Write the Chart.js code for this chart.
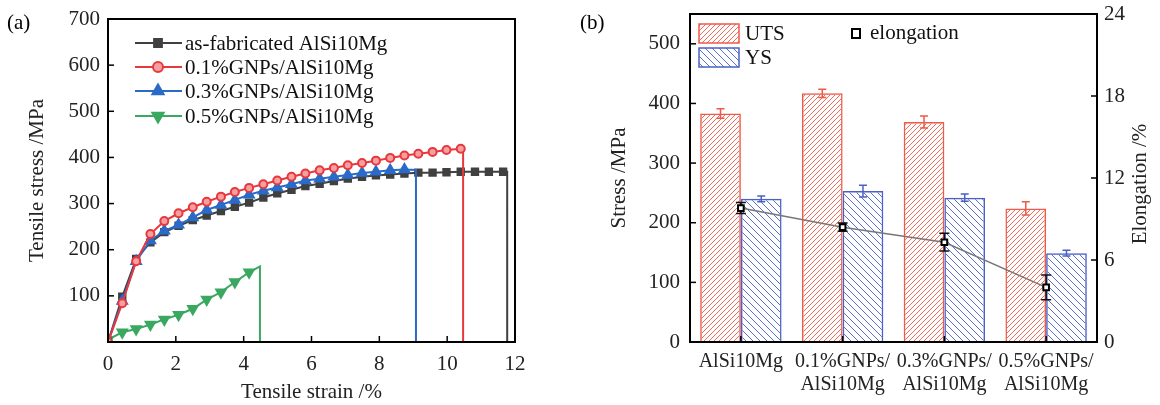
<!DOCTYPE html>
<html>
<head>
<meta charset="utf-8">
<script src="https://cdn.jsdelivr.net/npm/chart.js@4.4.1/dist/chart.umd.min.js"></script>
<style>
html, body { margin: 0; padding: 0; background: #fff; }
#wrap { position: relative; width: 1160px; height: 405px; }
.panel { position: absolute; top: 0; width: 580px; height: 405px; }
#pa { left: 0; }
#pb { left: 580px; }
</style>
</head>
<body>
<div id="wrap">
  <div class="panel" id="pa"><canvas id="chartA"></canvas></div>
  <div class="panel" id="pb"><canvas id="chartB"></canvas></div>
</div>
<script>
// ---- (a) tensile curves ----
const asFabStrain = [0, 0.42, 0.83, 1.25, 1.66, 2.08, 2.50, 2.91, 3.33, 3.74, 4.16, 4.58, 4.99, 5.41, 5.82, 6.24, 6.66, 7.07, 7.49, 7.90, 8.32, 8.74, 9.15, 9.57, 9.98, 10.40, 10.82, 11.23, 11.65, 11.77, 11.77];
const asFabStress = [0, 98, 180, 216, 238, 252, 264, 274, 284, 293, 302, 313, 322, 330, 338, 343, 349, 354, 358, 361, 363, 365, 367, 367, 368, 369, 369, 369, 369, 369, 0];

const gnp01Strain = [0, 0.42, 0.83, 1.25, 1.66, 2.08, 2.50, 2.91, 3.33, 3.74, 4.16, 4.58, 4.99, 5.41, 5.82, 6.24, 6.66, 7.07, 7.49, 7.90, 8.32, 8.74, 9.15, 9.57, 9.98, 10.40, 10.47, 10.47];
const gnp01Stress = [0, 84, 175, 234, 262, 279, 292, 304, 315, 325, 334, 342, 350, 358, 365, 372, 377, 383, 388, 393, 399, 404, 408, 412, 416, 419, 419, 0];

const gnp03Strain = [0, 0.42, 0.83, 1.25, 1.66, 2.08, 2.50, 2.91, 3.33, 3.74, 4.16, 4.58, 4.99, 5.41, 5.82, 6.24, 6.66, 7.07, 7.49, 7.90, 8.32, 8.74, 9.08, 9.08];
const gnp03Stress = [0, 89, 175, 220, 241, 254, 270, 286, 297, 308, 319, 328, 335, 342, 350, 354, 358, 362, 366, 369, 372, 374, 373, 0];

const gnp05Strain = [0, 0.42, 0.83, 1.25, 1.66, 2.08, 2.50, 2.91, 3.33, 3.74, 4.16, 4.48, 4.48];
const gnp05Stress = [5, 21, 28, 38, 49, 59, 72, 92, 108, 130, 151, 164, 0];

const curveLabels = ['as-fabricated AlSi10Mg', '0.1%GNPs/AlSi10Mg', '0.3%GNPs/AlSi10Mg', '0.5%GNPs/AlSi10Mg'];

// ---- (b) strength / elongation ----
const groups = ['AlSi10Mg', ['0.1%GNPs/', 'AlSi10Mg'], ['0.3%GNPs/', 'AlSi10Mg'], ['0.5%GNPs/', 'AlSi10Mg']];
const utsValues = [383, 417, 369, 224];
const utsErr = [8, 7, 10, 11];
const ysValues = [240, 253, 242, 149];
const ysErr = [5, 10, 6, 5];
const elongValues = [9.8, 8.4, 7.3, 4.0];
const elongErr = [0.4, 0.3, 0.65, 0.9];

const FONT = 'Liberation Serif';

function pts(xs, ys) {
    return xs.map((x, i) => ({ x: x, y: ys[i] }));
}

function makeHatch(color, size, forward) {
    const c = document.createElement('canvas');
    c.width = size; c.height = size;
    const g = c.getContext('2d');
    g.strokeStyle = color;
    g.lineWidth = 1;
    g.beginPath();
    if (forward) {
        g.moveTo(0, size); g.lineTo(size, 0);
        g.moveTo(-1, 1); g.lineTo(1, -1);
        g.moveTo(size - 1, size + 1); g.lineTo(size + 1, size - 1);
    } else {
        g.moveTo(0, 0); g.lineTo(size, size);
        g.moveTo(-1, size - 1); g.lineTo(1, size + 1);
        g.moveTo(size - 1, -1); g.lineTo(size + 1, 1);
    }
    g.stroke();
    return g.createPattern(c, 'repeat');
}

// frame box + inward tick marks
const frameTicks = {
    id: 'frameTicks',
    afterDraw(chart, args, opts) {
        const ctx = chart.ctx;
        const a = chart.chartArea;
        ctx.save();
        ctx.strokeStyle = '#000';
        ctx.lineWidth = 2;
        ctx.strokeRect(a.left, a.top, a.right - a.left, a.bottom - a.top);
        ctx.lineWidth = 1.5;
        (opts.scales || []).forEach(id => {
            const s = chart.scales[id];
            s.ticks.forEach((t, i) => {
                const p = s.getPixelForTick(i);
                ctx.beginPath();
                if (s.isHorizontal()) { ctx.moveTo(p, a.bottom); ctx.lineTo(p, a.bottom - 6); }
                else if (s.position === 'right') { ctx.moveTo(a.right, p); ctx.lineTo(a.right - 6, p); }
                else { ctx.moveTo(a.left, p); ctx.lineTo(a.left + 6, p); }
                ctx.stroke();
            });
        });
        if (opts.tag) {
            ctx.fillStyle = '#000';
            ctx.font = '21px "' + FONT + '"';
            ctx.textBaseline = 'middle';
            ctx.textAlign = 'left';
            ctx.fillText(opts.tag, opts.tagX, 23);
        }
        ctx.restore();
    }
};

// ---- chart (a) ----
const curveColors = ['#404040', '#e8383d', '#2a6ac8', '#3aa860'];
const curveFill = ['#404040', '#f4a0a0', '#2a6ac8', '#3aa860'];
const curveStyle = ['rect', 'circle', 'triangle', 'triangle'];
const curveRot = [0, 0, 0, 180];
const curveRad = [4.5, 4, 5.5, 5.5];

const legendA = {
    id: 'legendA',
    afterDraw(chart) {
        const ctx = chart.ctx;
        const rows = [43, 67, 91, 116];
        ctx.save();
        ctx.font = '21px "' + FONT + '"';
        ctx.textBaseline = 'middle';
        ctx.textAlign = 'left';
        rows.forEach((y, i) => {
            ctx.strokeStyle = curveColors[i];
            ctx.lineWidth = 2;
            ctx.beginPath(); ctx.moveTo(135, y); ctx.lineTo(182, y); ctx.stroke();
            ctx.fillStyle = curveFill[i];
            Chart.helpers.drawPoint(ctx, {
                pointStyle: curveStyle[i], rotation: curveRot[i], radius: curveRad[i] + 1, borderWidth: 2
            }, 158, y);
            ctx.fillStyle = '#111';
            ctx.fillText(curveLabels[i], 185, y + 1);
        });
        ctx.restore();
    }
};

function curveSet(i, xs, ys) {
    return {
        label: curveLabels[i],
        data: pts(xs, ys),
        borderColor: curveColors[i],
        backgroundColor: curveFill[i],
        borderWidth: 2,
        pointStyle: curveStyle[i],
        rotation: curveRot[i],
        pointBorderWidth: 2,
        pointRadius: c => (c.dataIndex >= c.dataset.data.length - 2 ? 0 : curveRad[i]),
        tension: 0
    };
}

new Chart(document.getElementById('chartA'), {
    type: 'line',
    data: {
        datasets: [
            curveSet(1, gnp01Strain, gnp01Stress),
            curveSet(2, gnp03Strain, gnp03Stress),
            curveSet(0, asFabStrain, asFabStress),
            curveSet(3, gnp05Strain, gnp05Stress)
        ]
    },
    options: {
        responsive: true,
        maintainAspectRatio: false,
        animation: false,
        layout: { padding: { top: 19, right: 65, left: 0, bottom: 0 } },
        plugins: {
            legend: { display: false },
            tooltip: { enabled: false },
            frameTicks: { scales: ['x', 'y'], tag: '(a)', tagX: 7 }
        },
        scales: {
            x: {
                type: 'linear', min: 0, max: 12,
                grid: { display: false, drawTicks: false },
                border: { display: false },
                ticks: { stepSize: 2, padding: 10, color: '#222', font: { family: FONT, size: 21 } },
                title: { display: true, text: 'Tensile strain /%', color: '#222', padding: { top: 0, bottom: 0 }, font: { family: FONT, size: 21 } },
                afterFit: s => { s.height = 63; }
            },
            y: {
                min: 0, max: 700,
                grid: { display: false, drawTicks: false },
                border: { display: false },
                ticks: { stepSize: 100, padding: 8, color: '#222', font: { family: FONT, size: 21 },
                    callback: v => (v === 0 ? '' : v) },
                title: { display: true, text: 'Tensile stress /MPa', color: '#222', padding: { top: 25, bottom: 0 }, font: { family: FONT, size: 21 } },
                afterFit: s => { s.width = 108; s.paddingTop = 0; s.paddingBottom = 0; }
            }
        }
    },
    plugins: [frameTicks, legendA]
});

// ---- chart (b) ----
const ctxB = document.getElementById('chartB').getContext('2d');
const utsHatch = makeHatch('#f26b5b', 5, true);
const ysHatch = makeHatch('#5a6fd0', 7, false);
const utsColor = '#ee5a48';
const ysColor = '#4a62c8';

function errBar(ctx, x, yTop, yBot, cap, color) {
    ctx.strokeStyle = color;
    ctx.lineWidth = 1.5;
    ctx.beginPath();
    ctx.moveTo(x, yTop); ctx.lineTo(x, yBot);
    ctx.moveTo(x - cap, yTop); ctx.lineTo(x + cap, yTop);
    ctx.moveTo(x - cap, yBot); ctx.lineTo(x + cap, yBot);
    ctx.stroke();
}

const errorBars = {
    id: 'errorBars',
    afterDatasetDraw(chart, args) {
        if (args.index > 1) return;
        const vals = args.index === 0 ? utsValues : ysValues;
        const errs = args.index === 0 ? utsErr : ysErr;
        const col = args.index === 0 ? utsColor : ysColor;
        const y = chart.scales.y;
        const ctx = chart.ctx;
        ctx.save();
        args.meta.data.forEach((el, i) => {
            errBar(ctx, el.x, y.getPixelForValue(vals[i] + errs[i]), y.getPixelForValue(vals[i] - errs[i]), 4, col);
        });
        ctx.restore();
    },
    beforeDatasetDraw(chart, args) {
        if (args.index !== 2) return;
        const y = chart.scales.y1;
        const ctx = chart.ctx;
        ctx.save();
        args.meta.data.forEach((el, i) => {
            errBar(ctx, el.x, y.getPixelForValue(elongValues[i] + elongErr[i]), y.getPixelForValue(elongValues[i] - elongErr[i]), 5, '#111');
        });
        ctx.restore();
    }
};

const legendB = {
    id: 'legendB',
    afterDraw(chart) {
        const ctx = chart.ctx;
        ctx.save();
        ctx.font = '21px "' + FONT + '"';
        ctx.textBaseline = 'middle';
        ctx.textAlign = 'left';
        [[24, utsHatch, utsColor, 'UTS'], [48, ysHatch, ysColor, 'YS']].forEach(r => {
            ctx.fillStyle = r[1];
            ctx.fillRect(119, r[0], 40, 19);
            ctx.strokeStyle = r[2];
            ctx.lineWidth = 1.5;
            ctx.strokeRect(119, r[0], 40, 19);
            ctx.fillStyle = '#111';
            ctx.fillText(r[3], 165, r[0] + 10);
        });
        ctx.fillStyle = '#fff';
        ctx.strokeStyle = '#000';
        ctx.lineWidth = 2;
        ctx.fillRect(272, 29, 8, 9);
        ctx.strokeRect(272, 29, 8, 9);
        ctx.fillStyle = '#111';
        ctx.fillText('elongation', 290, 33);
        // right axis title, reads bottom to top like the left one
        const a = chart.chartArea;
        ctx.translate(560, (a.top + a.bottom) / 2 + 6);
        ctx.rotate(-Math.PI / 2);
        ctx.textAlign = 'center';
        ctx.fillStyle = '#222';
        ctx.fillText('Elongation /%', 0, 0);
        ctx.restore();
    }
};

new Chart(ctxB, {
    type: 'bar',
    data: {
        labels: groups,
        datasets: [
            { label: 'UTS', data: utsValues, yAxisID: 'y', backgroundColor: utsHatch, borderColor: utsColor, borderWidth: 1.5 },
            { label: 'YS', data: ysValues, yAxisID: 'y', backgroundColor: ysHatch, borderColor: ysColor, borderWidth: 1.5 },
            { label: 'elongation', type: 'line', data: elongValues, yAxisID: 'y1', order: -1,
              borderColor: '#777', borderWidth: 1.5, pointStyle: 'rect', pointRadius: 4,
              pointBackgroundColor: '#fff', pointBorderColor: '#000', pointBorderWidth: 2, tension: 0 }
        ]
    },
    options: {
        responsive: true,
        maintainAspectRatio: false,
        animation: false,
        layout: { padding: { top: 14, right: 0, left: 0, bottom: 0 } },
        datasets: { bar: { categoryPercentage: 0.8, barPercentage: 1 } },
        plugins: {
            legend: { display: false },
            tooltip: { enabled: false },
            frameTicks: { scales: ['x', 'y', 'y1'], tag: '(b)', tagX: 0 }
        },
        scales: {
            x: {
                grid: { display: false, drawTicks: false },
                border: { display: false },
                ticks: { padding: 8, color: '#222', maxRotation: 0, autoSkip: false, font: { family: FONT, size: 20, lineHeight: 1.15 } },
                afterFit: s => { s.height = 63; }
            },
            y: {
                position: 'left', min: 0, max: 550,
                grid: { display: false, drawTicks: false },
                border: { display: false },
                ticks: { stepSize: 100, padding: 10, color: '#222', font: { family: FONT, size: 21 } },
                afterBuildTicks: s => { s.ticks = s.ticks.filter(t => t.value <= 500); },
                title: { display: true, text: 'Stress /MPa', color: '#222', padding: { top: 27, bottom: 0 }, font: { family: FONT, size: 21 } },
                afterFit: s => { s.width = 110; s.paddingTop = 0; s.paddingBottom = 0; }
            },
            y1: {
                position: 'right', min: 0, max: 24,
                grid: { display: false, drawTicks: false },
                border: { display: false },
                ticks: { stepSize: 6, padding: 7, color: '#222', font: { family: FONT, size: 21 } },
                afterFit: s => { s.width = 63; s.paddingTop = 0; s.paddingBottom = 0; }
            }
        }
    },
    plugins: [frameTicks, errorBars, legendB]
});
</script>
</body>
</html>
